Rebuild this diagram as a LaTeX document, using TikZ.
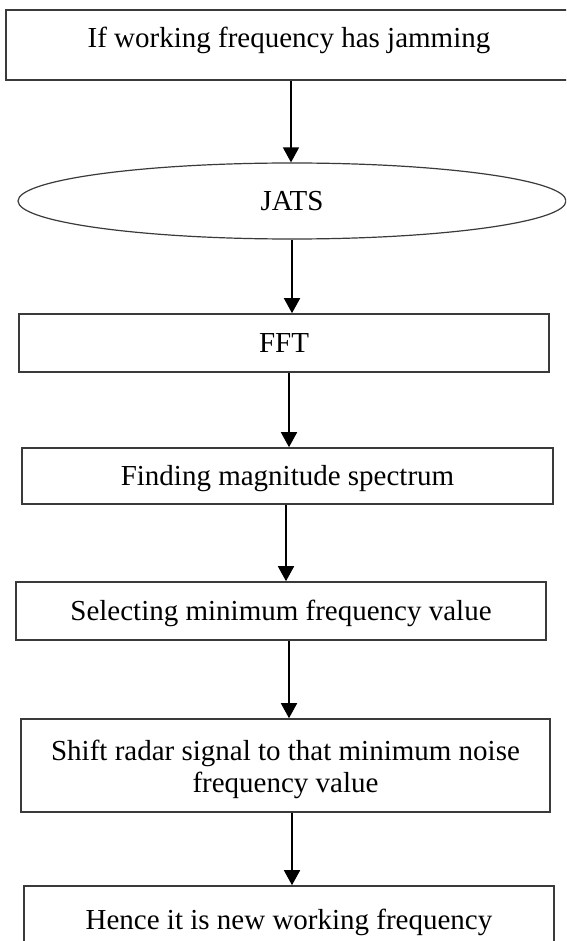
\documentclass[tikz,border=0pt]{standalone}
\usepackage{fontspec}
\setmainfont{Liberation Serif}
\usetikzlibrary{shapes.geometric,arrows.meta}
\definecolor{boxgray}{HTML}{3A3A3A}
\tikzset{
  flowbox/.style={draw=boxgray, line width=1.6pt, rectangle, inner sep=0pt, align=center,
    font=\fontsize{29}{32}\selectfont, text height=25pt, text depth=6pt},
  flowoval/.style={draw=boxgray, line width=1.2pt, ellipse, inner sep=0pt,
    font=\fontsize{29}{32}\selectfont, text height=25pt, text depth=6pt},
  flowarrow/.style={line width=1.6pt, -{Triangle[width=16pt,length=15pt]}}
}
\begin{document}
\begin{tikzpicture}[x=1pt,y=-1pt]
\clip (0,0) rectangle (566,941);
\fill[white] (0,0) rectangle (566,941);
\node[flowbox, minimum width=566pt, minimum height=70pt, text height=14pt, text depth=8pt] (n1) at (289,45) {If working frequency has jamming};
\node[flowoval, minimum width=548pt, minimum height=76pt] (jats) at (292,201) {JATS};
\node[flowbox, minimum width=530pt, minimum height=58pt] (fft) at (284,343) {FFT};
\node[flowbox, minimum width=531pt, minimum height=56pt] (mag) at (287.5,476) {Finding magnitude spectrum};
\node[flowbox, minimum width=530pt, minimum height=58pt] (sel) at (281,611) {Selecting minimum frequency value};
\node[flowbox, minimum width=529pt, minimum height=93pt, text height=, text depth=] (shift) at (285.5,765.5) {\rule{0pt}{29pt}Shift radar signal to that minimum noise\\frequency value};
\node[flowbox, minimum width=530pt, minimum height=70pt, text height=22pt, text depth=6pt] (hence) at (289,921) {Hence it is new working frequency};
\draw[flowarrow] (291,0 |- n1.south) -- (291,0 |- jats.north);
\draw[flowarrow] (292,0 |- jats.south) -- (292,0 |- fft.north);
\draw[flowarrow] (289,0 |- fft.south) -- (289,0 |- mag.north);
\draw[flowarrow] (286,0 |- mag.south) -- (286,0 |- sel.north);
\draw[flowarrow] (289,0 |- sel.south) -- (289,0 |- shift.north);
\draw[flowarrow] (292,0 |- shift.south) -- (292,0 |- hence.north);
\end{tikzpicture}
\end{document}
